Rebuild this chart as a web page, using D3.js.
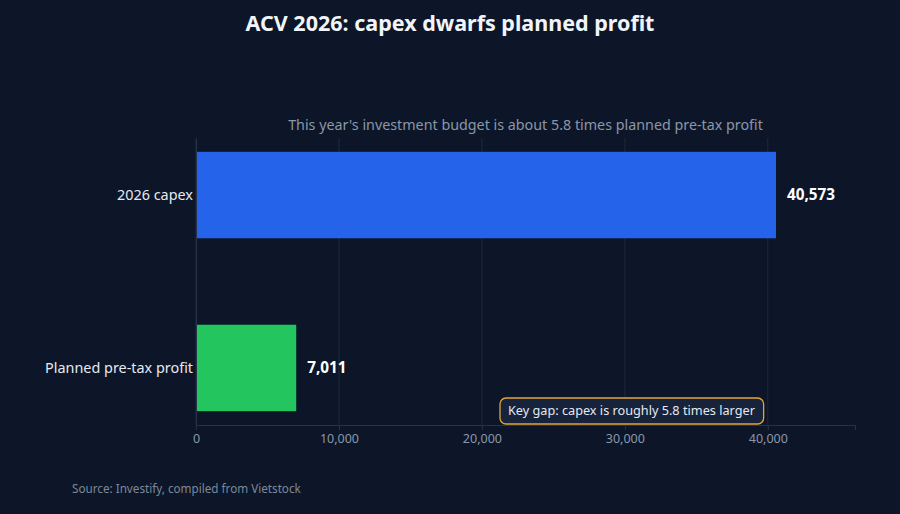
<!DOCTYPE html>
<html>
<head>
<meta charset="utf-8">
<script src="https://cdn.jsdelivr.net/npm/d3@7"></script>
<style>
    body { margin: 0; background: #0c1628; }
    svg { display: block; font-family: "Noto Sans", sans-serif; }
</style>
</head>
<body>
<div id="chart"></div>
<script>
const categories = ["2026 capex", "Planned pre-tax profit"];
const values = [40573, 7011];
const barColors = ["#2563eb", "#22c55e"];
const tickValues = [0, 10000, 20000, 30000, 40000];

const width = 900;
const height = 514;
const margin = { top: 138, right: 45, bottom: 89, left: 196 };

const svg = d3.select("#chart")
    .append("svg")
    .attr("width", width)
    .attr("height", height);

svg.append("rect")
    .attr("width", width)
    .attr("height", height)
    .attr("fill", "#0c1628");

// Scales
const x = d3.scaleLinear()
    .domain([0, 46100])
    .range([margin.left, width - margin.right]);

const y = d3.scaleBand()
    .domain(categories)
    .range([margin.top, height - margin.bottom])
    .paddingInner(0.5)
    .paddingOuter(0.08);

// Gridlines
svg.append("g")
    .selectAll("line")
    .data(tickValues)
    .enter().append("line")
    .attr("x1", d => x(d))
    .attr("x2", d => x(d))
    .attr("y1", margin.top)
    .attr("y2", height - margin.bottom)
    .attr("stroke", "#1e293b")
    .attr("stroke-width", 1);

// Bars
svg.append("g")
    .selectAll("rect")
    .data(categories)
    .enter().append("rect")
    .attr("x", x(0))
    .attr("y", d => y(d))
    .attr("width", (d, i) => x(values[i]) - x(0))
    .attr("height", y.bandwidth())
    .attr("fill", (d, i) => barColors[i]);

// Value labels
svg.append("g")
    .selectAll("text")
    .data(categories)
    .enter().append("text")
    .attr("x", (d, i) => x(values[i]) + 11)
    .attr("y", d => y(d) + y.bandwidth() / 2)
    .attr("dy", "0.35em")
    .attr("fill", "#ffffff")
    .attr("font-size", 15.3)
    .attr("font-weight", "bold")
    .text((d, i) => d3.format(",")(values[i]));

// X axis
const xAxis = svg.append("g")
    .attr("transform", `translate(0,${height - margin.bottom})`)
    .call(d3.axisBottom(x).tickValues(tickValues).tickFormat(d3.format(",")).tickSize(5).tickPadding(4));
xAxis.select(".domain").attr("stroke", "#263246");
xAxis.selectAll(".tick line").attr("stroke", "#263246");
xAxis.selectAll(".tick text")
    .attr("fill", "#8a97aa")
    .attr("font-size", 12.5)
    .attr("font-family", "Noto Sans, sans-serif");

// Y axis labels
const yAxis = svg.append("g")
    .attr("transform", `translate(${margin.left},0)`)
    .call(d3.axisLeft(y).tickSize(0).tickPadding(3));
yAxis.select(".domain").attr("stroke", "#263246");
yAxis.selectAll(".tick text")
    .attr("fill", "#e5e9f0")
    .attr("font-size", 14.4)
    .attr("font-family", "Noto Sans, sans-serif");

// Title
svg.append("text")
    .attr("x", width / 2)
    .attr("y", 31)
    .attr("text-anchor", "middle")
    .attr("fill", "#f1f5f9")
    .attr("font-size", 21.5)
    .attr("font-weight", "bold")
    .text("ACV 2026: capex dwarfs planned profit");

// Subtitle
svg.append("text")
    .attr("x", (margin.left + width - margin.right) / 2)
    .attr("y", 130)
    .attr("text-anchor", "middle")
    .attr("fill", "#8a97aa")
    .attr("font-size", 14.3)
    .text("This year's investment budget is about 5.8 times planned pre-tax profit");

// Annotation
const note = svg.append("g");
const noteText = note.append("text")
    .attr("x", 508)
    .attr("y", 411)
    .attr("dy", "0.35em")
    .attr("fill", "#e5e9f0")
    .attr("font-size", 12.7)
    .text("Key gap: capex is roughly 5.8 times larger");
const bb = noteText.node().getBBox();
note.insert("rect", "text")
    .attr("x", bb.x - 8)
    .attr("y", 398)
    .attr("width", bb.width + 16)
    .attr("height", 26)
    .attr("rx", 6)
    .attr("fill", "#16233a")
    .attr("stroke", "#e3a43a")
    .attr("stroke-width", 1.3);

// Source
svg.append("text")
    .attr("x", 72)
    .attr("y", 493)
    .attr("fill", "#7d8898")
    .attr("font-size", 11.7)
    .text("Source: Investify, compiled from Vietstock");
</script>
</body>
</html>
